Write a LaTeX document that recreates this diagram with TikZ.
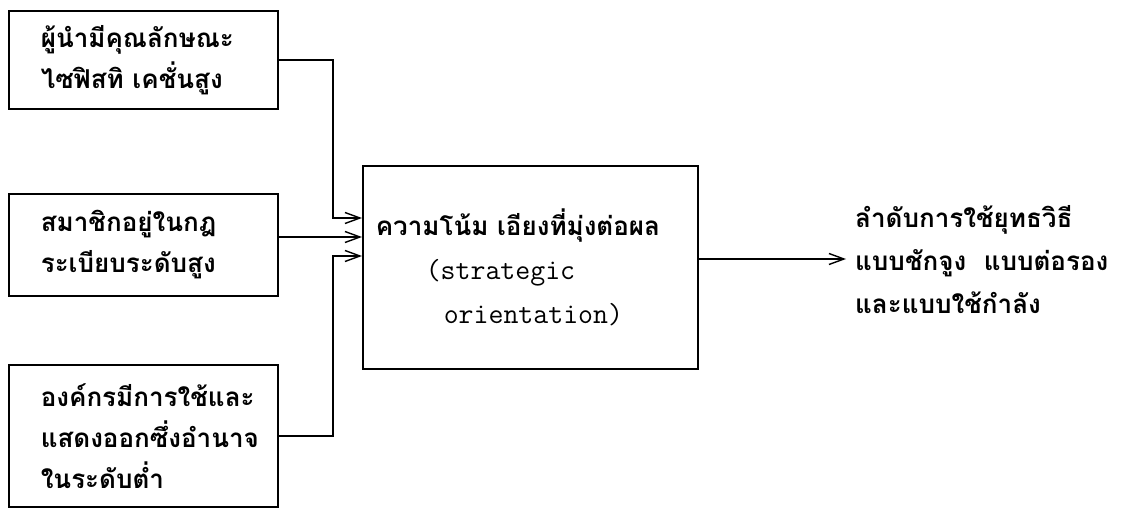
\documentclass[tikz,border=0pt]{standalone}
\usepackage{fontspec}
\newfontfamily\thaifont[Script=Thai]{Loma}
\usetikzlibrary{arrows.meta}
\begin{document}
\begin{tikzpicture}[x=1pt,y=-1pt,
  thaitext/.style={font=\thaifont\bfseries\fontsize{26}{41}\selectfont},
  box/.style={draw, line width=1.6pt, anchor=north west, align=left,
    inner ysep=0pt, inner xsep=32pt, text width=205pt, thaitext},
  conn/.style={line width=1.6pt},
  arr/.style={conn, -{Straight Barb[length=15pt,width=11pt,line width=1.4pt]}},
]
\useasboundingbox (0,0) rectangle (1124,516);
\fill[white] (0,0) rectangle (1124,516);

\node[box, minimum width=269pt, minimum height=98pt] (b1) at (8,10)
  {ผู้นำมีคุณลักษณะ\\ไซฟิสทิ~เคชั่นสูง};
\node[box, minimum width=268pt, minimum height=102pt] (b2) at (8,193)
  {สมาชิกอยู่ในกฎ\\ระเบียบระดับสูง};
\node[box, minimum width=267pt, minimum height=142pt] (b3) at (8,364)
  {องค์กรมีการใช้และ\\แสดงออกซึ่งอำนาจ\\ในระดับต่ำ};

\node[draw, line width=1.6pt, anchor=north west, align=left,
  minimum width=335pt, minimum height=203pt, inner xsep=13pt, inner ysep=0pt,
  text width=309pt, font=\thaifont\bfseries\fontsize{26}{44}\selectfont] (ctr) at (362,165)
  {ความโน้ม~เอียงที่มุ่งต่อผล\\
   \hspace*{50pt}{\ttfamily\mdseries\fontsize{29}{44}\selectfont (strategic}\\
   \hspace*{68pt}{\ttfamily\mdseries\fontsize{29}{44}\selectfont orientation)}};

\node[anchor=west, align=left, inner sep=0pt,
  font=\thaifont\bfseries\fontsize{26}{43}\selectfont] (out) at (855,260)
  {ลำดับการใช้ยุทธวิธี\\แบบชักจูง~~แบบต่อรอง\\และแบบใช้กำลัง};

\coordinate (jx) at (333,0);
\coordinate (in1) at (362,218);
\coordinate (in2) at (362,237);
\coordinate (in3) at (362,256);
\coordinate (o) at (0,259);

\draw[arr] (b1.east) -- (b1.east -| jx) |- (in1);
\draw[arr] (b2.east |- in2) -- (in2);
\draw[arr] (b3.east) -- (b3.east -| jx) |- (in3);
\draw[arr] (ctr.east |- o) -- ([xshift=-9pt]out.west |- o);
\end{tikzpicture}
\end{document}
